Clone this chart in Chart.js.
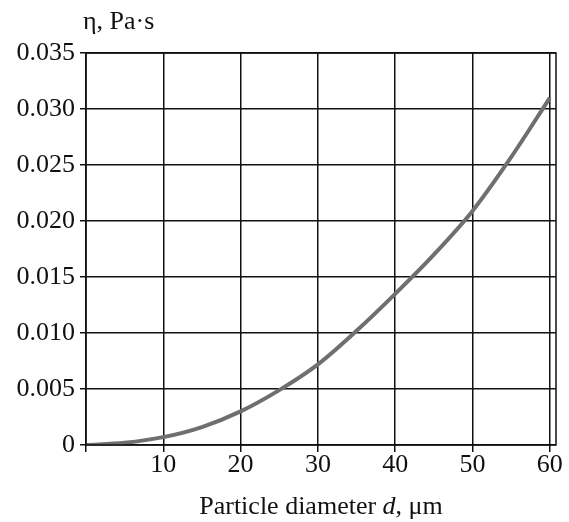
<!DOCTYPE html>
<html>
<head>
<meta charset="utf-8">
<script src="https://cdn.jsdelivr.net/npm/chart.js@4/dist/chart.umd.min.js"></script>
<style>
  html, body { margin: 0; padding: 0; background: #fff; }
  #wrap { width: 569px; height: 522px; }
</style>
</head>
<body>
<div id="wrap"><canvas id="myChart"></canvas></div>
<script>
// particle diameter d, um
var diameters = [0, 5, 10, 15, 20, 25, 30, 35, 40, 45, 50, 55, 60];
// viscosity eta, Pa*s
var viscosity = [0, 0.0002, 0.0007, 0.0016, 0.0030, 0.0049, 0.0072, 0.0102, 0.0135, 0.0170, 0.0209, 0.0257, 0.0310];
var xTicks = [0, 10, 20, 30, 40, 50, 60];
var yTicks = [0, 0.005, 0.010, 0.015, 0.020, 0.025, 0.030, 0.035];

var serif = '"Liberation Serif", "DejaVu Serif", serif';

var points = diameters.map(function (d, i) { return { x: d, y: viscosity[i] }; });

// frame + axis titles
var extras = {
  id: 'extras',
  afterDraw: function (chart) {
    var c = chart.ctx, a = chart.chartArea;
    c.save();
    c.strokeStyle = '#111';
    c.lineWidth = 1.5;
    c.strokeRect(a.left, a.top, a.right - a.left, a.bottom - a.top);

    c.fillStyle = '#111';
    c.textBaseline = 'alphabetic';
    c.font = '26px ' + serif;
    c.textAlign = 'left';
    c.fillText('η, Pa·s', a.left - 3, 29);

    // x title with italic d
    var parts = [['Particle diameter ', false], ['d', true], [', μm', false]];
    var total = 0;
    parts.forEach(function (p) {
      c.font = (p[1] ? 'italic ' : '') + '26px ' + serif;
      p.push(c.measureText(p[0]).width);
      total += p[2];
    });
    var x = (a.left + a.right) / 2 - total / 2;
    parts.forEach(function (p) {
      c.font = (p[1] ? 'italic ' : '') + '26px ' + serif;
      c.fillText(p[0], x, 514);
      x += p[2];
    });
    c.restore();
  }
};

var ctx = document.getElementById('myChart').getContext('2d');
var myChart = new Chart(ctx, {
  type: 'scatter',
  data: {
    datasets: [{
      data: points,
      showLine: true,
      borderColor: '#6f6f6f',
      borderWidth: 4,
      pointRadius: 0,
      tension: 0.4,
      cubicInterpolationMode: 'monotone'
    }]
  },
  options: {
    responsive: true,
    maintainAspectRatio: false,
    animation: false,
    layout: { padding: { top: 53, right: 13, left: 0, bottom: 0 } },
    plugins: { legend: { display: false }, tooltip: { enabled: false } },
    scales: {
      x: {
        type: 'linear',
        min: 0,
        max: 60.8,
        afterFit: function (s) { s.height = 77; },
        afterBuildTicks: function (s) { s.ticks = xTicks.map(function (v) { return { value: v }; }); },
        grid: { color: '#111', lineWidth: 1.5, tickLength: 7, tickColor: '#111' },
        border: { display: false },
        ticks: {
          padding: 0,
          color: '#111',
          font: { family: serif, size: 26, lineHeight: 1 },
          maxRotation: 0,
          callback: function (v) { return v === 0 ? '' : String(v); }
        }
      },
      y: {
        min: 0,
        max: 0.035,
        afterFit: function (s) { s.width = 86; },
        afterBuildTicks: function (s) { s.ticks = yTicks.map(function (v) { return { value: v }; }); },
        grid: { color: '#111', lineWidth: 1.5, tickLength: 6, tickColor: '#111' },
        border: { display: false },
        ticks: {
          padding: 5,
          color: '#111',
          font: { family: serif, size: 26 },
          callback: function (v) { return v === 0 ? '0' : v.toFixed(3); }
        }
      }
    }
  },
  plugins: [extras]
});
</script>
</body>
</html>
